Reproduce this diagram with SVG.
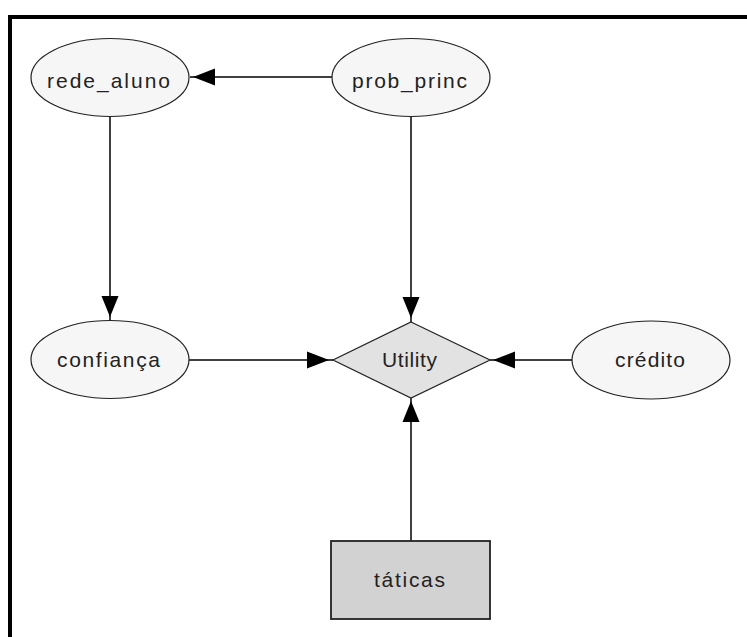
<svg xmlns="http://www.w3.org/2000/svg" width="747" height="637" viewBox="0 0 747 637">
  <style>
    .chance { fill: #f6f6f6; stroke: #222; stroke-width: 1.2; }
    .utility { fill: #e2e2e2; stroke: #222; stroke-width: 1.2; }
    .decision { fill: #d2d2d2; stroke: #222; stroke-width: 1.8; }
    .label { font-family: "Liberation Sans", Arial, sans-serif; font-size: 21px; fill: #222; text-anchor: middle; }
    .edge { stroke: #000; stroke-width: 1.5; fill: none; }
    .head { fill: #000; }
  </style>

  <!-- background and frame (top and left rules) -->
  <rect x="0" y="0" width="747" height="637" fill="#fff"/>
  <rect x="8" y="15" width="739" height="4" fill="#000"/>
  <rect x="8" y="15" width="4" height="622" fill="#000"/>

  <!-- connectors -->
  <g id="edges">
    <!-- prob_princ -> rede_aluno -->
    <line class="edge" x1="332" y1="77" x2="190" y2="77"/>
    <polygon class="head" points="193,77 215,68.5 215,85.5"/>
    <!-- rede_aluno -> confiança -->
    <line class="edge" x1="110" y1="117" x2="110" y2="320"/>
    <polygon class="head" points="110,317 101.5,296 118.5,296"/>
    <!-- prob_princ -> Utility -->
    <line class="edge" x1="411" y1="117" x2="411" y2="322"/>
    <polygon class="head" points="411,318 402.5,297 419.5,297"/>
    <!-- confiança -> Utility -->
    <line class="edge" x1="189" y1="360" x2="333" y2="360"/>
    <polygon class="head" points="329,360 307,351.5 307,368.5"/>
    <!-- crédito -> Utility -->
    <line class="edge" x1="572" y1="360" x2="490" y2="360"/>
    <polygon class="head" points="493,360 515,351.5 515,368.5"/>
    <!-- táticas -> Utility -->
    <line class="edge" x1="411" y1="541" x2="411" y2="398"/>
    <polygon class="head" points="411,401 402.5,422 419.5,422"/>
  </g>

  <g id="rede_aluno">
    <ellipse class="chance" cx="110" cy="77.5" rx="79" ry="39"/>
    <text class="label" x="108.5" y="87.5" textLength="123" lengthAdjust="spacing">rede_aluno</text>
  </g>

  <g id="prob_princ">
    <ellipse class="chance" cx="411" cy="77.5" rx="79" ry="39"/>
    <text class="label" x="409.5" y="88" textLength="115" lengthAdjust="spacing">prob_princ</text>
  </g>

  <g id="confianca">
    <ellipse class="chance" cx="110" cy="359.5" rx="79" ry="39"/>
    <text class="label" x="108.5" y="367" textLength="103" lengthAdjust="spacing">confiança</text>
  </g>

  <g id="Utility">
    <polygon class="utility" points="411,322 490,360 411,398 333,360"/>
    <text class="label" x="409.5" y="367" textLength="55" lengthAdjust="spacing">Utility</text>
  </g>

  <g id="credito">
    <ellipse class="chance" cx="651" cy="360" rx="79" ry="39"/>
    <text class="label" x="650" y="367" textLength="70" lengthAdjust="spacing">crédito</text>
  </g>

  <g id="taticas">
    <rect class="decision" x="331" y="541" width="159" height="78"/>
    <text class="label" x="409.5" y="587" textLength="71" lengthAdjust="spacing">táticas</text>
  </g>
</svg>
